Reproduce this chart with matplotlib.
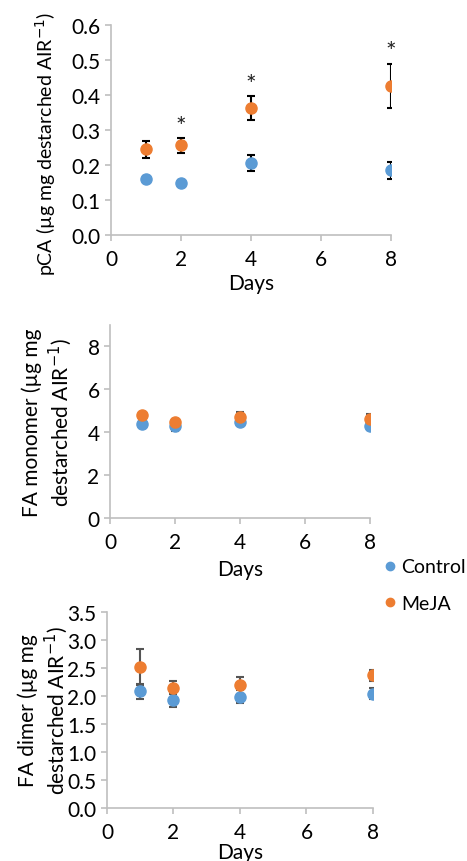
import numpy as np
import matplotlib.pyplot as plt

plt.rcParams['font.family'] = ['Lato', 'DejaVu Sans']

days = [1, 2, 4, 8]

# pCA
pca_ctrl = [0.160, 0.148, 0.207, 0.185]
pca_ctrl_err = [0.008, 0.008, 0.023, 0.025]
pca_meja = [0.245, 0.256, 0.363, 0.427]
pca_meja_err = [0.025, 0.022, 0.035, 0.063]
pca_stars = [None, 0.31, 0.43, 0.525]

# FA monomer
mono_ctrl = [4.40, 4.30, 4.50, 4.30]
mono_ctrl_err = [0.15, 0.22, 0.12, 0.18]
mono_meja = [4.80, 4.50, 4.70, 4.60]
mono_meja_err = [0.12, 0.12, 0.25, 0.25]

# FA dimer
dim_ctrl = [2.08, 1.92, 1.99, 2.04]
dim_ctrl_err = [0.14, 0.12, 0.12, 0.10]
dim_meja = [2.52, 2.15, 2.19, 2.37]
dim_meja_err = [0.32, 0.12, 0.15, 0.10]

blue = '#5b9bd5'
orange = '#ed7d31'
grey = '#bfbfbf'
fs = 15

fig = plt.figure(figsize=(4.67, 8.62), dpi=100)
ax1 = fig.add_axes([0.2377, 0.7262, 0.600, 0.2436])
ax2 = fig.add_axes([0.2355, 0.3979, 0.5567, 0.2239])
ax3 = fig.add_axes([0.2291, 0.0615, 0.5696, 0.2274])


def draw(ax, c, ce, m, me, ecol, lpad):
    ax.errorbar(days, c, yerr=ce, fmt='o', color=blue, ecolor=ecol,
                markersize=8, capsize=3, elinewidth=1.5, capthick=1.5,
                label='Control', zorder=3)
    ax.errorbar(days, m, yerr=me, fmt='o', color=orange, ecolor=ecol,
                markersize=8, capsize=3, elinewidth=1.5, capthick=1.5,
                label='MeJA', zorder=3)
    ax.set_xlim(0, 8)
    ax.set_xticks([0, 2, 4, 6, 8])
    for s in ['top', 'right']:
        ax.spines[s].set_visible(False)
    for s in ['left', 'bottom']:
        ax.spines[s].set_color(grey)
        ax.spines[s].set_linewidth(1.2)
    ax.tick_params(colors=grey, labelcolor='black', labelsize=fs,
                   length=4, width=1.2)
    ax.tick_params(axis='x', pad=6)
    ax.set_xlabel('Days', fontsize=fs, labelpad=lpad)


draw(ax1, pca_ctrl, pca_ctrl_err, pca_meja, pca_meja_err, 'black', 3)
ax1.set_ylim(0, 0.6)
ax1.set_yticks(np.arange(0, 0.61, 0.1))
ax1.set_yticklabels(['%.1f' % v for v in np.arange(0, 0.61, 0.1)])
ax1.set_ylabel('pCA (µg mg destarched AIR$^{-1}$)', fontsize=14)
ax1.yaxis.set_label_coords(-0.19, 0.44)
for d, s in zip(days, pca_stars):
    if s is not None:
        ax1.text(d, s, '*', ha='center', va='center', fontsize=18,
                 color='#222222')

draw(ax2, mono_ctrl, mono_ctrl_err, mono_meja, mono_meja_err, '#555555', 5)
ax2.set_ylim(0, 9)
ax2.set_yticks([0, 2, 4, 6, 8])
ax2.set_ylabel('FA monomer (µg mg\ndestarched AIR$^{-1}$)', fontsize=fs,
               labelpad=10)

draw(ax3, dim_ctrl, dim_ctrl_err, dim_meja, dim_meja_err, '#555555', 0)
ax3.set_ylim(0, 3.5)
ax3.set_yticks(np.arange(0, 3.51, 0.5))
ax3.set_yticklabels(['%.1f' % v for v in np.arange(0, 3.51, 0.5)])
ax3.set_ylabel('FA dimer (µg mg\ndestarched AIR$^{-1}$)', fontsize=fs,
               labelpad=-2)

handles = [plt.Line2D([], [], marker='o', ls='', color=blue, markersize=6),
           plt.Line2D([], [], marker='o', ls='', color=orange, markersize=6)]
fig.legend(handles, ['Control', 'MeJA'], loc='upper left',
           bbox_to_anchor=(0.825, 0.351), frameon=False, fontsize=14,
           handlelength=0.5, handletextpad=0.3, labelspacing=1.0,
           borderaxespad=0, borderpad=0)

fig.savefig('out.png', dpi=100)
